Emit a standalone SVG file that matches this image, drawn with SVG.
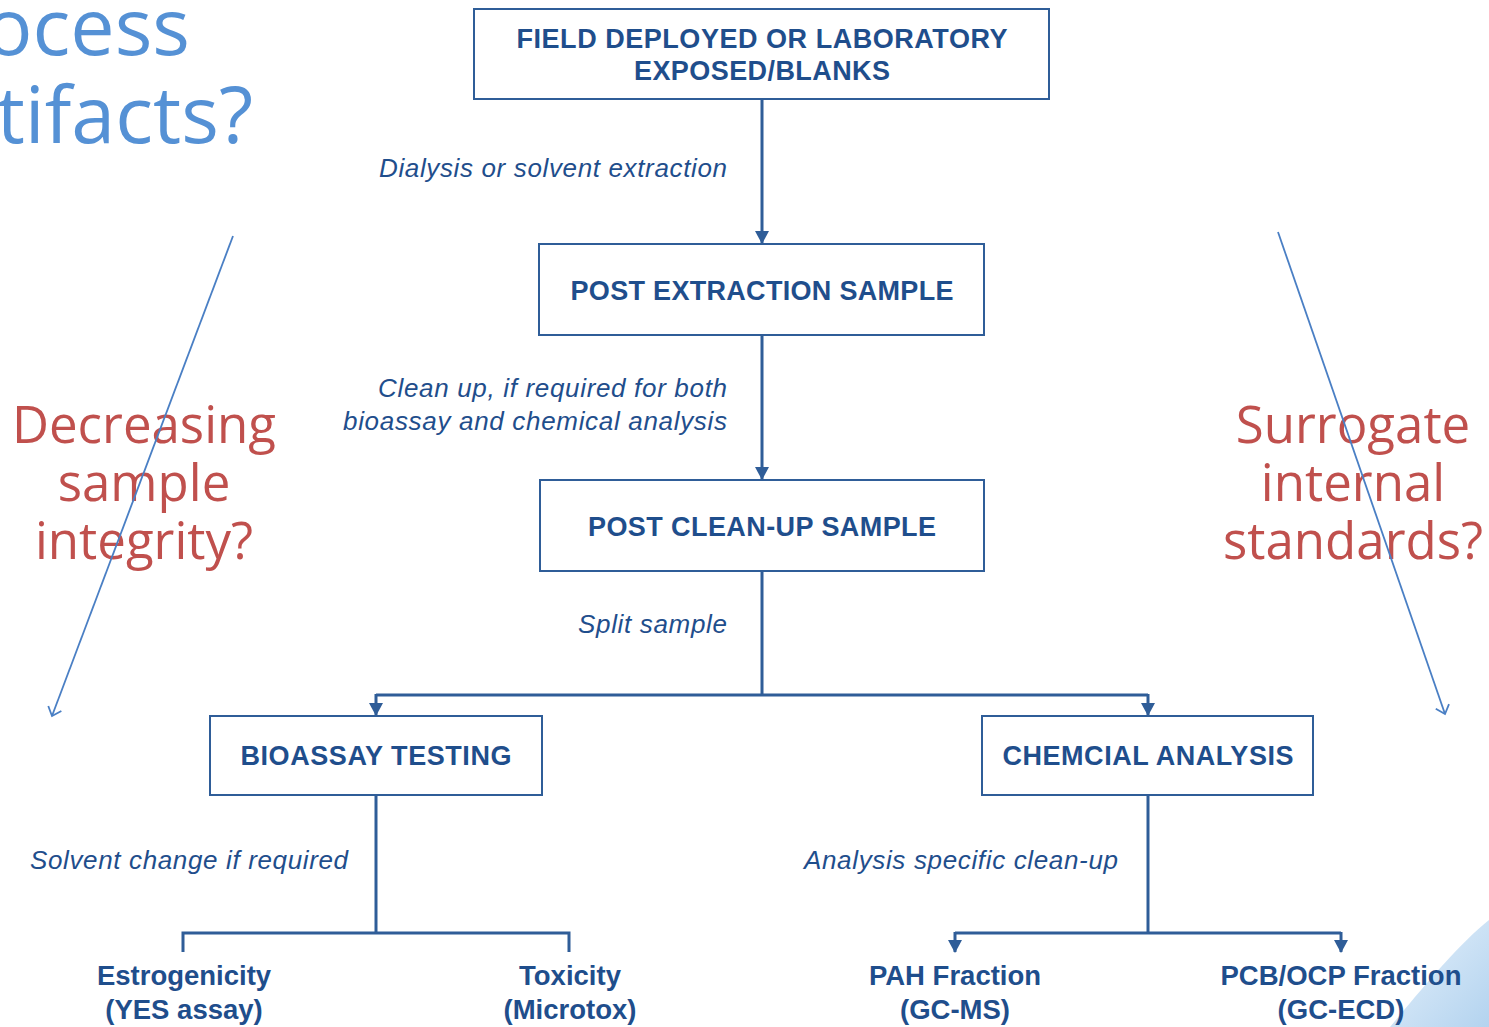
<svg xmlns="http://www.w3.org/2000/svg" width="1489" height="1027" viewBox="0 0 1489 1027">
<defs>
<style>
.box{fill:#fff;stroke:#2f5d98;stroke-width:2}
.bt{font-family:"Liberation Sans",Arial,sans-serif;font-weight:bold;fill:#1f4e8c;text-anchor:middle}
.lbl{font-family:"Liberation Sans",Arial,sans-serif;font-style:italic;font-size:26px;fill:#1f4e8c}
.ln{fill:none;stroke:#2f5d98;stroke-width:3}
.thin{fill:none;stroke:#4a7fc4;stroke-width:1.8}
.big{font-family:"Open Sans","DejaVu Sans",sans-serif;font-size:51px}
.red{fill:#c0504d;text-anchor:middle}
</style>
<marker id="ah" markerWidth="14" markerHeight="14" refX="12" refY="7" orient="auto" markerUnits="userSpaceOnUse" viewBox="0 0 14 14">
<path d="M0,0 L13,7 L0,14 Z" fill="#2f5d98"/>
</marker>
<marker id="oa" markerWidth="20" markerHeight="20" refX="10" refY="10" orient="auto" markerUnits="userSpaceOnUse" viewBox="0 0 20 20">
<path d="M2,3 L10,10 L2,17" fill="none" stroke="#4a7fc4" stroke-width="1.8"/>
</marker>
<linearGradient id="sw" x1="0" y1="0" x2="1" y2="1">
<stop offset="0" stop-color="#e6f1fb"/>
<stop offset="1" stop-color="#b3d3ef"/>
</linearGradient>
</defs>
<rect width="1489" height="1027" fill="#fff"/>
<path d="M1390,1027 C1425,985 1458,945 1489,920 L1489,1027 Z" fill="url(#sw)"/>

<g id="side-texts">
<text class="big" x="190" y="55" fill="#5591d5" text-anchor="end" style="font-size:79px">ocess</text>
<text class="big" x="253" y="143" fill="#5591d5" text-anchor="end" style="font-size:79px">tifacts?</text>
<text class="big red" x="144" y="443">Decreasing</text>
<text class="big red" x="144" y="501">sample</text>
<text class="big red" x="144" y="559">integrity?</text>
<text class="big red" x="1353" y="443">Surrogate</text>
<text class="big red" x="1353" y="501">internal</text>
<text class="big red" x="1353" y="559">standards?</text>
</g>

<g id="connectors">
<path class="ln" d="M762,99 V243" marker-end="url(#ah)"/>
<path class="ln" d="M762,335 V479" marker-end="url(#ah)"/>
<path class="ln" d="M762,571 V695"/>
<path class="ln" d="M376,695 H1148"/>
<path class="ln" d="M376,694 V715" marker-end="url(#ah)"/>
<path class="ln" d="M1148,694 V715" marker-end="url(#ah)"/>
<path class="ln" d="M376,795 V933"/>
<path class="ln" d="M183,952 V933 H569 V952"/>
<path class="ln" d="M1148,795 V933"/>
<path class="ln" d="M955,933 H1341"/>
<path class="ln" d="M955,932 V952" marker-end="url(#ah)"/>
<path class="ln" d="M1341,932 V952" marker-end="url(#ah)"/>
<path class="thin" d="M233,236 L52,716" marker-end="url(#oa)"/>
<path class="thin" d="M1278,232 L1445,714" marker-end="url(#oa)"/>
</g>

<g id="labels">
<text class="lbl" x="727" y="177" text-anchor="end" textLength="348">Dialysis or solvent extraction</text>
<text class="lbl" x="727" y="397" text-anchor="end" textLength="349">Clean up, if required for both</text>
<text class="lbl" x="727" y="430" text-anchor="end" textLength="384">bioassay and chemical analysis</text>
<text class="lbl" x="727" y="633" text-anchor="end" textLength="149">Split sample</text>
<text class="lbl" x="30" y="869" textLength="318">Solvent change if required</text>
<text class="lbl" x="804" y="869" textLength="314">Analysis specific clean-up</text>
</g>

<g id="node-field">
<rect class="box" x="474" y="9" width="575" height="90"/>
<text class="bt" x="762" y="48" font-size="27" textLength="491">FIELD DEPLOYED OR LABORATORY</text>
<text class="bt" x="762" y="80" font-size="27" textLength="256">EXPOSED/BLANKS</text>
</g>
<g id="node-post-extraction">
<rect class="box" x="539" y="244" width="445" height="91"/>
<text class="bt" x="762" y="300" font-size="27" textLength="383">POST EXTRACTION SAMPLE</text>
</g>
<g id="node-post-cleanup">
<rect class="box" x="540" y="480" width="444" height="91"/>
<text class="bt" x="762" y="536" font-size="27" textLength="348">POST CLEAN-UP SAMPLE</text>
</g>
<g id="node-bioassay">
<rect class="box" x="210" y="716" width="332" height="79"/>
<text class="bt" x="376" y="765" font-size="27" textLength="271">BIOASSAY TESTING</text>
</g>
<g id="node-chemical">
<rect class="box" x="982" y="716" width="331" height="79"/>
<text class="bt" x="1148" y="765" font-size="27" textLength="291">CHEMCIAL ANALYSIS</text>
</g>
<g id="node-estrogenicity">
<text class="bt" x="184" y="985" font-size="27.5">Estrogenicity</text>
<text class="bt" x="184" y="1019" font-size="27.5">(YES assay)</text>
</g>
<g id="node-toxicity">
<text class="bt" x="570" y="985" font-size="27.5">Toxicity</text>
<text class="bt" x="570" y="1019" font-size="27.5">(Microtox)</text>
</g>
<g id="node-pah">
<text class="bt" x="955" y="985" font-size="27.5">PAH Fraction</text>
<text class="bt" x="955" y="1019" font-size="27.5">(GC-MS)</text>
</g>
<g id="node-pcb">
<text class="bt" x="1341" y="985" font-size="27.5">PCB/OCP Fraction</text>
<text class="bt" x="1341" y="1019" font-size="27.5">(GC-ECD)</text>
</g>
</svg>
